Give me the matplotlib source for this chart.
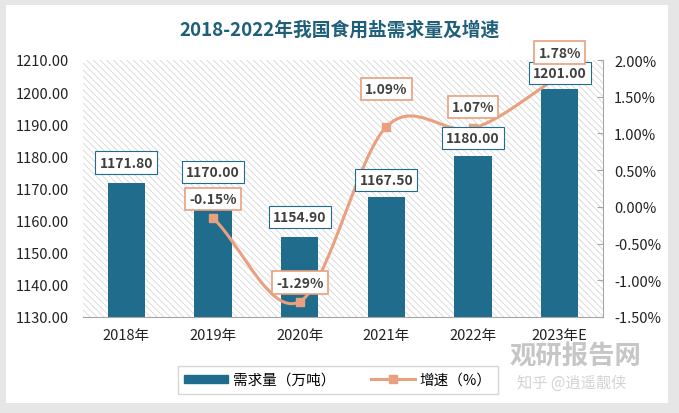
import matplotlib
matplotlib.use('Agg')
import matplotlib.pyplot as plt
import matplotlib.patches as mpatches
from matplotlib.lines import Line2D
import numpy as np

plt.rcParams['font.family'] = ['Noto Sans CJK SC', 'DejaVu Sans']
plt.rcParams['hatch.color'] = '#d6d6d6'
plt.rcParams['hatch.linewidth'] = 0.6

years = ['2018年', '2019年', '2020年', '2021年', '2022年', '2023年E']
demand = [1171.80, 1170.00, 1154.90, 1167.50, 1180.00, 1201.00]
growth = [None, -0.15, -1.29, 1.09, 1.07, 1.78]
left_ticks = [1130, 1140, 1150, 1160, 1170, 1180, 1190, 1200, 1210]
right_ticks = [-1.5, -1.0, -0.5, 0.0, 0.5, 1.0, 1.5, 2.0]

bar_color = '#1f6c8d'
line_color = '#e8a07f'
text_color = '#404040'

W, H = 679, 414
fig = plt.figure(figsize=(W / 100, H / 100), dpi=100)
fig.patch.set_facecolor('#e6e6e6')
fig.patches.append(mpatches.Rectangle((6 / W, 1 - 404 / H), 662 / W, 398 / H,
                                      transform=fig.transFigure, facecolor='white',
                                      edgecolor='none', zorder=-10))

ax = fig.add_axes([83 / W, 1 - 318 / H, 520 / W, 257 / H])
ax.patch.set_facecolor('white')
ax.patch.set_hatch('\\\\\\\\\\')
ax.patch.set_edgecolor('#d6d6d6')
ax.patch.set_linewidth(0)

x = np.arange(len(years))
ax.bar(x, demand, width=0.43, color=bar_color, zorder=2)
ax.set_xlim(-0.5, len(years) - 0.5)
ax.set_ylim(1130, 1210)
ax.set_yticks(left_ticks)
ax.set_yticklabels(['%.2f' % v for v in left_ticks], fontsize=10.5, color='#222222')
ax.set_xticks(x)
ax.set_xticklabels(years, fontsize=10.5, color='#222222')
ax.tick_params(axis='both', length=0, pad=8)
ax.tick_params(axis='y', pad=10)
for s in ['top', 'right', 'left']:
    ax.spines[s].set_visible(False)
ax.spines['bottom'].set_color('#a6a6a6')

ax2 = ax.twinx()
ax2.set_ylim(-1.5, 2.0)
ax2.set_yticks(right_ticks)
ax2.set_yticklabels(['%.2f%%' % v for v in right_ticks], fontsize=10.5, color='#222222')
ax2.tick_params(axis='y', direction='in', length=4, color='#a6a6a6', pad=8)
for s in ['top', 'left', 'bottom']:
    ax2.spines[s].set_visible(False)
ax2.spines['right'].set_color('#a6a6a6')

# smoothed line like Excel (Catmull-Rom through the points)
gx = np.array([i for i, g in enumerate(growth) if g is not None], dtype=float)
gy = np.array([g for g in growth if g is not None], dtype=float)
px = np.concatenate([[2 * gx[0] - gx[1]], gx, [2 * gx[-1] - gx[-2]]])
py = np.concatenate([[2 * gy[0] - gy[1]], gy, [2 * gy[-1] - gy[-2]]])
cx, cy = [], []
t = np.linspace(0, 1, 40)
for i in range(1, len(px) - 2):
    p0, p1, p2, p3 = [np.array([px[j], py[j]]) for j in range(i - 1, i + 3)]
    pts = 0.5 * ((2 * p1)[:, None] + (-p0 + p2)[:, None] * t
                 + (2 * p0 - 5 * p1 + 4 * p2 - p3)[:, None] * t ** 2
                 + (-p0 + 3 * p1 - 3 * p2 + p3)[:, None] * t ** 3)
    cx.extend(pts[0])
    cy.extend(pts[1])
ax2.plot(cx, cy, color=line_color, lw=2.2, zorder=3)
ax2.plot(gx, gy, ls='none', marker='s', ms=6, color=line_color, zorder=4)

# data labels (bar labels drawn on ax2 so they sit above the line)
bar_off = [14.5, 12, 14.5, 12, 13.3, 11.5]
for i, v in enumerate(demand):
    ax2.annotate('%.2f' % v, (i, v), xycoords=ax.transData, xytext=(0, bar_off[i]),
                 textcoords='offset points', ha='center', va='center', fontsize=10,
                 fontweight='bold', color=text_color,
                 bbox=dict(boxstyle='square,pad=0.3', fc='white', ec=bar_color, lw=0.8),
                 zorder=5)
pct_off = [0, 13.7, 13.7, 27, 15.5, 17]
for i, g in enumerate(growth):
    if g is None:
        continue
    ax2.annotate('%.2f%%' % g, (i, g), xytext=(0, pct_off[i]), textcoords='offset points',
                 ha='center', va='center', fontsize=10, fontweight='bold', color=text_color,
                 bbox=dict(boxstyle='square,pad=0.3', fc='white', ec=line_color, lw=1.2),
                 zorder=6)

fig.text(0.5, 1 - 30 / H, '2018-2022年我国食用盐需求量及增速', ha='center', va='center',
         fontsize=13.5, fontweight='bold', color='#1f5f7a')

handles = [mpatches.Patch(color=bar_color, label='需求量（万吨）'),
           Line2D([0], [0], color=line_color, lw=2.2, marker='s', ms=6, label='增速（%）')]
leg = fig.legend(handles=handles, loc='center', bbox_to_anchor=(338 / W, 1 - 381 / H),
                 ncol=2, fontsize=10.5, frameon=True, fancybox=False, edgecolor='#cccccc',
                 handlelength=3, handleheight=0.5, handletextpad=0.3, columnspacing=2.5,
                 borderpad=0.45)

fig.text(575 / W, 1 - 357 / H, '观研报告网', ha='center', va='center', fontsize=19,
         fontweight='bold', color='#b8b8b8', alpha=0.8)
fig.text(572 / W, 1 - 383 / H, '知乎 @逍遥靓侠', ha='center', va='center', fontsize=11,
         color='#c8c8c8', alpha=0.8)

fig.savefig('out.png', dpi=100, facecolor=fig.get_facecolor())
